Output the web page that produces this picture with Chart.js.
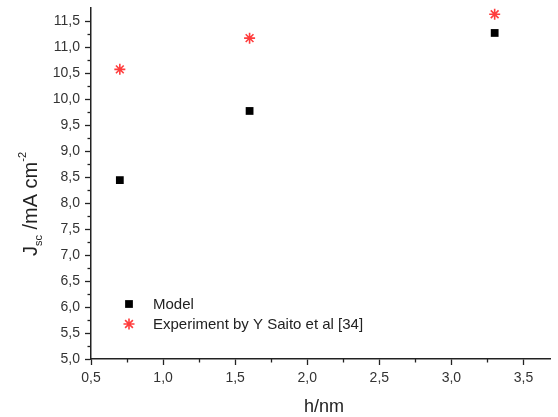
<!DOCTYPE html>
<html>
<head>
<meta charset="utf-8">
<script src="https://cdn.jsdelivr.net/npm/chart.js@4/dist/chart.umd.min.js"></script>
<style>
  html, body { margin: 0; padding: 0; background: #fff; overflow: hidden; }
  #wrap { width: 558px; height: 417px; }
</style>
</head>
<body>
<div id="wrap"><canvas id="grafico"></canvas></div>
<script>
// datos
const alturas = [0.7, 1.6, 3.3];
const jscModelo = [8.44, 9.77, 11.27];
const jscExperimento = [10.57, 11.17, 11.63];
const etiquetas = ['Model', 'Experiment by Y Saito et al [34]'];

const fuente = 'Arial, "Liberation Sans", sans-serif';
const coma = v => v.toFixed(1).replace('.', ',');

// ticks menores, leyenda interna y titulos de ejes
const extras = {
  id: 'extras',
  afterDraw(chart) {
    const ctx = chart.ctx;
    const x = chart.scales.x, y = chart.scales.y;
    ctx.save();
    ctx.strokeStyle = '#222';
    ctx.lineWidth = 1.3;
    for (let v = 0.75; v < x.max; v += 0.5) {
      const px = Math.round(x.getPixelForValue(v)) + 0.5;
      ctx.beginPath(); ctx.moveTo(px, y.bottom); ctx.lineTo(px, y.bottom + 3.5); ctx.stroke();
    }
    for (let v = 5.25; v < y.max; v += 0.5) {
      const py = Math.round(y.getPixelForValue(v)) + 0.5;
      ctx.beginPath(); ctx.moveTo(x.left, py); ctx.lineTo(x.left - 3.5, py); ctx.stroke();
    }

    // leyenda
    ctx.font = '15px ' + fuente;
    ctx.fillStyle = '#222';
    ctx.textBaseline = 'middle';
    chart.data.datasets.forEach((ds, i) => {
      const ly = 304 + i * 20;
      ctx.save();
      ctx.fillStyle = ds.backgroundColor;
      ctx.strokeStyle = ds.borderColor;
      ctx.lineWidth = ds.borderWidth;
      Chart.helpers.drawPoint(ctx, { pointStyle: ds.pointStyle, radius: ds.pointRadius, borderWidth: ds.borderWidth }, 129, ly);
      ctx.restore();
      ctx.fillText(ds.label, 153, ly + 1);
    });

    // titulo eje x
    ctx.textAlign = 'center';
    ctx.textBaseline = 'alphabetic';
    ctx.font = '18px ' + fuente;
    ctx.fillText('h/nm', 324, 412);

    // titulo eje y con sub y superindice
    ctx.translate(37, 204);
    ctx.rotate(-Math.PI / 2);
    ctx.textAlign = 'left';
    const partes = [
      { t: 'J', size: 20, dy: 0 },
      { t: 'sc', size: 11, dy: 5 },
      { t: ' /mA cm', size: 20, dy: 0 },
      { t: '-2', size: 11, dy: -11 }
    ];
    let total = 0;
    partes.forEach(p => { ctx.font = p.size + 'px ' + fuente; total += ctx.measureText(p.t).width; });
    let cx = -total / 2;
    partes.forEach(p => {
      ctx.font = p.size + 'px ' + fuente;
      ctx.fillText(p.t, cx, p.dy);
      cx += ctx.measureText(p.t).width;
    });
    ctx.restore();
  }
};

const ctx = document.getElementById('grafico').getContext('2d');
new Chart(ctx, {
  type: 'scatter',
  data: {
    datasets: [{
      label: etiquetas[0],
      data: alturas.map((h, i) => ({ x: h, y: jscModelo[i] })),
      pointStyle: 'rect',
      pointRadius: 5.5,
      backgroundColor: '#000',
      borderColor: '#000',
      borderWidth: 0
    }, {
      label: etiquetas[1],
      data: alturas.map((h, i) => ({ x: h, y: jscExperimento[i] })),
      pointStyle: 'star',
      pointRadius: 5.5,
      backgroundColor: 'rgba(255,40,40,0.9)',
      borderColor: 'rgba(255,40,40,0.9)',
      borderWidth: 1.6
    }]
  },
  options: {
    responsive: true,
    maintainAspectRatio: false,
    animation: false,
    layout: { padding: { top: 8, right: 0, left: 0, bottom: 0 } },
    plugins: {
      legend: { display: false },
      tooltip: { enabled: false }
    },
    scales: {
      x: {
        type: 'linear',
        min: 0.5,
        max: 3.69,
        afterFit: s => { s.height = 58; },
        border: { color: '#222', width: 1.5 },
        grid: { display: true, drawOnChartArea: false, tickLength: 6, tickColor: '#222', tickWidth: 1.3 },
        ticks: {
          stepSize: 0.5,
          includeBounds: false,
          padding: 5,
          color: '#333',
          font: { family: fuente, size: 14 },
          maxRotation: 0,
          callback: v => coma(v)
        }
      },
      y: {
        type: 'linear',
        min: 5.0,
        max: 11.75,
        afterFit: s => { s.width = 91; s.paddingTop = 0; s.paddingBottom = 0; },
        border: { color: '#222', width: 1.5 },
        grid: { display: true, drawOnChartArea: false, tickLength: 6, tickColor: '#222', tickWidth: 1.3 },
        ticks: {
          stepSize: 0.5,
          includeBounds: false,
          padding: 5,
          color: '#333',
          font: { family: fuente, size: 14 },
          callback: v => coma(v)
        }
      }
    }
  },
  plugins: [extras]
});
</script>
</body>
</html>
